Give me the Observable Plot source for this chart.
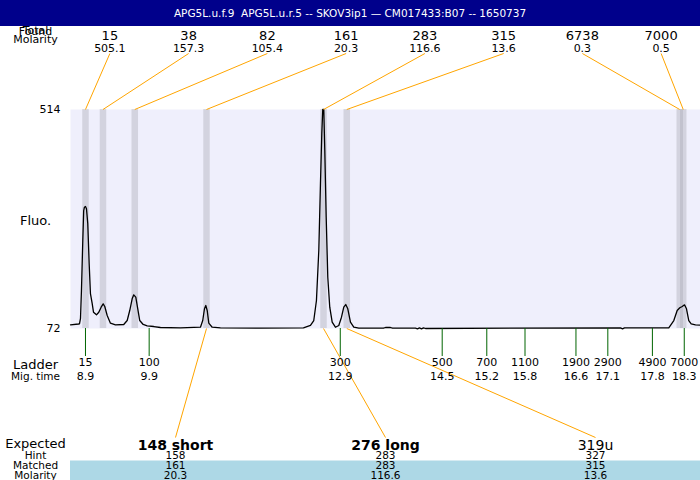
<!DOCTYPE html>
<html>
<head>
<meta charset="utf-8">
<script src="https://cdn.jsdelivr.net/npm/d3@7"></script>
<script src="https://cdn.jsdelivr.net/npm/@observablehq/plot@0.6"></script>
<style>
  html, body { margin: 0; padding: 0; background: white; }
  #title { width: 700px; height: 26px; line-height: 26px; background: #00008b; color: white;
           font-family: "DejaVu Sans", sans-serif; font-size: 10.5px; text-align: center; white-space: pre; }
  #chart svg { overflow: visible; }
</style>
</head>
<body>
<div id="title">APG5L.u.f.9  APG5L.u.r.5 -- SKOV3ip1 — CM017433:B07 -- 1650737</div>
<div id="chart"></div>
<script>
// ---- Electropherogram trace (migration time in s-ish units, fluorescence) ----
const traceTime = [8.665, 8.790, 8.806, 8.822, 8.837, 8.858, 8.872, 8.884, 8.900, 8.916, 8.936, 8.958, 8.978,
  9.005, 9.026, 9.073, 9.109, 9.146, 9.178, 9.203, 9.241, 9.292, 9.371, 9.501, 9.555, 9.595, 9.633, 9.658,
  9.690, 9.721, 9.752, 9.806, 9.869, 9.972, 10.077, 10.391, 10.705, 10.741, 10.768, 10.789, 10.811, 10.836,
  10.889, 11.019, 11.647, 12.322, 12.432, 12.484, 12.526, 12.563, 12.589, 12.610, 12.625, 12.641, 12.657,
  12.679, 12.704, 12.735, 12.773, 12.824, 12.877, 12.919, 12.955, 12.986, 13.018, 13.060, 13.112, 13.191,
  13.578, 13.610, 13.688, 13.720, 14.081, 14.112, 14.143, 14.175, 14.206, 14.238, 17.299, 17.331, 17.362,
  18.057, 18.136, 18.189, 18.230, 18.268, 18.304, 18.335, 18.371, 18.409, 18.476, 18.555];
const traceFluo = [79.5, 81.1, 81.5, 92.2, 148.7, 249.6, 310.1, 316.8, 318.2, 313.5, 283.9, 203.2, 142.6,
  122.5, 104.9, 99.6, 104.9, 115.0, 121.8, 116.4, 98.2, 82.7, 79.5, 80.1, 88.1, 108.3, 131.9, 140.0,
  135.2, 111.8, 88.1, 80.1, 77.4, 76.0, 74.0, 73.4, 74.6, 88.1, 111.8, 118.4, 108.3, 82.7,
  74.6, 73.4, 72.6, 73.4, 78.1, 88.1, 128.5, 229.4, 364.6, 465.5, 514, 514, 431.2,
  296.6, 175.5, 115.0, 84.7, 74.6, 78.1, 94.8, 115.0, 120.4, 111.8, 84.7, 74.6, 72.6,
  72.6, 74.0, 74.0, 72.6, 72.6, 71.4, 73.4, 71.4, 73.4, 72.0, 73.4, 71.4, 73.4,
  73.4, 88.1, 108.3, 113.8, 116.4, 119.8, 111.8, 88.1, 81.5, 79.5, 78.7];

// ---- Found peaks ----
const peakSizes = [15, 38, 82, 161, 283, 315, 6738, 7000];
const peakMolarity = [505.1, 157.3, 105.4, 20.3, 116.6, 13.6, 0.3, 0.5];
const peakTimes = [8.900, 9.175, 9.674, 10.800, 12.637, 13.002, 18.229, 18.284];

// ---- Ladder ----
const ladderSizes = [15, 100, 300, 500, 700, 1100, 1900, 2900, 4900, 7000];
const ladderTimes = [8.9, 9.9, 12.9, 14.5, 15.2, 15.8, 16.6, 17.1, 17.8, 18.3];

// ---- Expected products ----
const expectedLabels = ["148 short", "276 long", "319u"];
const hintSizes = [158, 283, 327];
const matchedSizes = [161, 283, 315];
const matchedMolarity = [20.3, 116.6, 13.6];
const matchedPeakIndex = [3, 4, 5];

const yTicks = [72, 514];

// ---- tables built from the arrays ----
const trace = traceTime.map((t, i) => ({t, v: traceFluo[i]}));
const peaks = peakSizes.map((s, i) => ({size: s, mol: peakMolarity[i], t: peakTimes[i], i}));
const sizeByTime = new Map(ladderTimes.map((t, i) => [t, ladderSizes[i]]));
const expected = expectedLabels.map((lab, i) => ({
  label: lab, hint: hintSizes[i], matched: matchedSizes[i], mol: matchedMolarity[i],
  peakT: peakTimes[matchedPeakIndex[i]], i
}));

// ---- layout ----
const W = 700, H = 454, mTop = 83, mBottom = 152, mLeft = 70;
const xDomain = [8.665, 18.555];
const yDomain = [72, 514];
const frameH = H - mTop - mBottom;
const yPerPx = (yDomain[1] - yDomain[0]) / frameH;
const aboveTop = px => yDomain[1] + px * yPerPx;
const belowBottom = px => yDomain[0] - px * yPerPx;
const colT = (i, n) => xDomain[0] + (xDomain[1] - xDomain[0]) * (i + 0.5) / n;

const font = "DejaVu Sans";
const leftLab = (txt, anchor, dy, size) => Plot.text([txt], {
  text: d => d, frameAnchor: anchor, dx: -35, dy, textAnchor: "middle",
  lineAnchor: "bottom", fontSize: size, fill: "black"
});

const chart = Plot.plot({
  width: W, height: H,
  marginTop: mTop, marginBottom: mBottom, marginLeft: mLeft, marginRight: 0,
  style: {fontFamily: font, background: "white", overflow: "visible"},
  x: {domain: xDomain},
  y: {domain: yDomain},
  marks: [
    Plot.frame({fill: "#efeffc", stroke: null}),
    // peak bands
    Plot.ruleX(peaks, {x: "t", stroke: "#a9a9b4", strokeOpacity: 0.4, strokeWidth: 6.5}),
    // trace
    Plot.line(trace, {x: "t", y: "v", stroke: "black", strokeWidth: 1.3}),
    // top connectors
    Plot.link(peaks, {x1: d => colT(d.i, peaks.length), y1: aboveTop(56), x2: "t", y2: yDomain[1],
      stroke: "orange", strokeWidth: 1}),
    // bottom connectors
    Plot.link(expected, {x1: "peakT", y1: yDomain[0], x2: d => colT(d.i, expected.length) + 0.0, y2: belowBottom(109),
      stroke: "orange", strokeWidth: 1}),
    // top labels
    Plot.text(peaks, {x: d => colT(d.i, peaks.length), text: d => String(d.size), frameAnchor: "top",
      dy: -70, lineAnchor: "bottom", fontSize: 13, fill: "black"}),
    Plot.text(peaks, {x: d => colT(d.i, peaks.length), text: d => d.mol.toFixed(1), frameAnchor: "top",
      dy: -58, lineAnchor: "bottom", fontSize: 11, fill: "black"}),
    leftLab("Found", "top-left", -75, 11),
    leftLab("Total", "top-left", -76, 11),
    leftLab("Molarity", "top-left", -66.5, 11),
    // Fluo label
    Plot.text(["Fluo."], {text: d => d, frameAnchor: "left", dx: -35, dy: 2, textAnchor: "middle",
      fontSize: 13, fill: "black"}),
    // y axis
    Plot.axisY(yTicks, {tickSize: 0, tickPadding: 10, fontSize: 11, label: null, fill: "black"}),
    // ladder ticks & labels
    Plot.axisX(ladderTimes, {anchor: "bottom", tickSize: 28, tickPadding: 2, stroke: "#006400", strokeWidth: 1,
      tickFormat: t => String(sizeByTime.get(t)), fontSize: 11, fill: "black", label: null}),
    Plot.axisX(ladderTimes, {anchor: "bottom", tickSize: 0, tickPadding: 44,
      tickFormat: t => t.toFixed(1), fontSize: 11, fill: "black", label: null}),
    leftLab("Ladder", "bottom-left", 40, 13),
    leftLab("Mig. time", "bottom-left", 51, 10.5),
    // bottom table
    Plot.ruleY([yDomain[0]], {dy: 142, stroke: "#add8e6", strokeWidth: 20}),
    leftLab("Expected", "bottom-left", 119, 13),
    leftLab("Hint", "bottom-left", 130, 10.5),
    leftLab("Matched", "bottom-left", 140, 10.5),
    leftLab("Molarity", "bottom-left", 150, 10.5),
    Plot.text(expected, {filter: d => d.i < 2, x: d => colT(d.i, expected.length), text: "label", frameAnchor: "bottom",
      dy: 121, lineAnchor: "bottom", fontSize: 14, fontWeight: "bold", fill: "black"}),
    Plot.text(expected, {filter: d => d.i >= 2, x: d => colT(d.i, expected.length), text: "label", frameAnchor: "bottom",
      dy: 121, lineAnchor: "bottom", fontSize: 14, fill: "black"}),
    Plot.text(expected, {x: d => colT(d.i, expected.length), text: d => String(d.hint), frameAnchor: "bottom",
      dy: 130, lineAnchor: "bottom", fontSize: 10.5, fill: "black"}),
    Plot.text(expected, {x: d => colT(d.i, expected.length), text: d => String(d.matched), frameAnchor: "bottom",
      dy: 140, lineAnchor: "bottom", fontSize: 10.5, fill: "black"}),
    Plot.text(expected, {x: d => colT(d.i, expected.length), text: d => d.mol.toFixed(1), frameAnchor: "bottom",
      dy: 150, lineAnchor: "bottom", fontSize: 10.5, fill: "black"})
  ]
});
document.getElementById("chart").appendChild(chart);
</script>
</body>
</html>
